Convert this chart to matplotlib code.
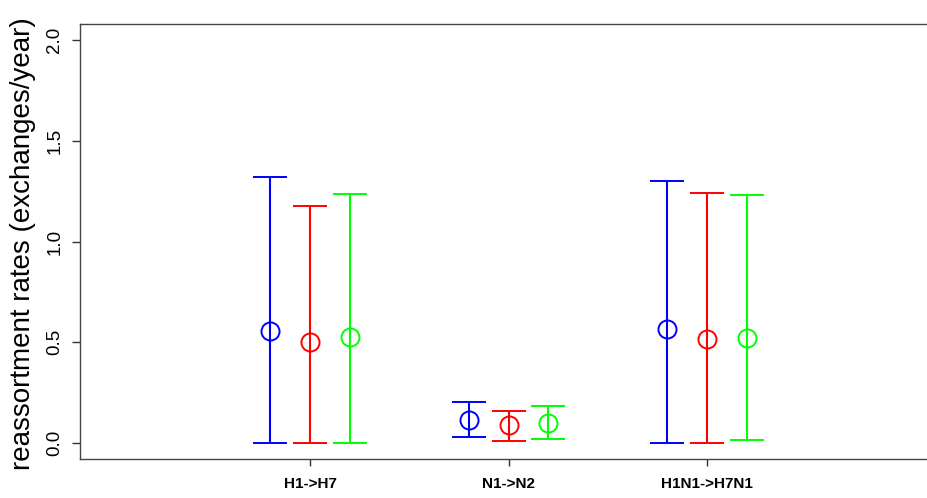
import matplotlib
matplotlib.use("Agg")
from matplotlib import pyplot as plt
import numpy as np

plt.rcParams['font.family'] = ['Liberation Sans', 'DejaVu Sans']

# reassortment directions along the x axis
categories = ["H1->H7", "N1->N2", "H1N1->H7N1"]
positions = [1, 2, 3]

# one series per colour: point estimate and interval bounds
series_colors = ["#0000ff", "#ff0000", "#00ff00"]
offsets = [-0.2, 0.0, 0.2]

est = [
    [0.557, 0.113, 0.565],   # blue
    [0.502, 0.091, 0.517],   # red
    [0.525, 0.100, 0.520],   # green
]
lower = [
    [0.0, 0.030, 0.0],
    [0.0, 0.010, 0.0],
    [0.0, 0.021, 0.013],
]
upper = [
    [1.318, 0.204, 1.298],
    [1.174, 0.160, 1.242],
    [1.238, 0.181, 1.230],
]

fig = plt.figure(figsize=(9.27, 4.98), dpi=100)
# right edge of the box runs past the figure border
ax = fig.add_axes([80 / 927, 1 - 459 / 498, 857 / 927, 435 / 498])

for k in range(3):
    x = np.array(positions) + offsets[k]
    y = np.array(est[k])
    lo = y - np.array(lower[k])
    hi = np.array(upper[k]) - y
    ax.errorbar(x, y, yerr=[lo, hi], fmt='o', color=series_colors[k],
                mfc='none', mec=series_colors[k], ms=13, mew=1.4,
                elinewidth=1.5, capsize=12.5, capthick=1.5)

ax.set_xlim(-0.16, 4.16)
ax.set_ylim(-0.08, 2.08)

ax.set_xticks(positions)
ax.set_xticklabels(categories, fontsize=11, fontweight='bold')
ax.set_yticks([0.0, 0.5, 1.0, 1.5, 2.0])
ax.set_yticklabels(["0.0", "0.5", "1.0", "1.5", "2.0"], rotation=90,
                   va='center', fontsize=13.5)
ax.tick_params(axis='y', length=6, width=1, pad=6, colors='#333333')
ax.tick_params(axis='x', length=5, width=1, pad=8, colors='#333333')
for lab in ax.get_xticklabels() + ax.get_yticklabels():
    lab.set_color('black')

for s in ax.spines.values():
    s.set_color('#444444')
    s.set_linewidth(1)

fig.text(23 / 927, 1 - 244 / 498, "reassortment rates (exchanges/year)",
         rotation=90, ha='center', va='center', fontsize=20)

fig.savefig("out.png", dpi=100)
